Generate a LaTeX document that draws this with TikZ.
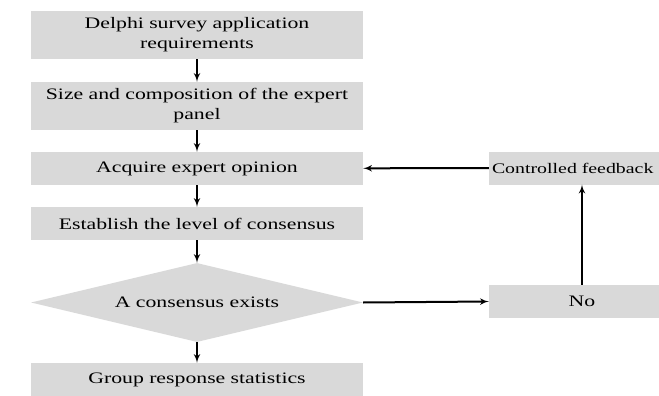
\documentclass[tikz,border=0pt]{standalone}
\usepackage{fontspec}
\setmainfont{Liberation Serif}[FakeStretch=1.36]
\usetikzlibrary{shapes,arrows}
\tikzstyle{block} = [rectangle, fill=black!15, text width=320pt, text centered,
    minimum width=332pt, inner sep=0pt, font=\fontsize{16}{20}\selectfont]
\tikzstyle{sideblock} = [rectangle, fill=black!15, text width=186pt, text centered,
    minimum width=186pt, minimum height=33pt, inner sep=0pt, font=\fontsize{16}{20}\selectfont]
\tikzstyle{decision} = [diamond, fill=black!15, aspect=4.2, minimum width=332pt, minimum height=79pt,
    inner sep=0pt, font=\fontsize{16}{20}\selectfont]
\tikzstyle{line} = [draw, line width=2pt, -latex']

\begin{document}
\begin{tikzpicture}[x=1pt, y=1pt]
    \useasboundingbox (0,0) rectangle (659,-396);
    \clip (0,0) rectangle (659,-396);
    % Place nodes
    \node [block, minimum height=48pt] (require) at (197,-35) {Delphi survey application\\requirements};
    \node [block, minimum height=48pt, below of=require, node distance=71pt] (panel) {Size and composition of the expert\\panel};
    \node [block, minimum height=33pt, below of=panel, node distance=62.5pt] (acquire) {Acquire expert opinion};
    \node [block, minimum height=33pt, below of=acquire, node distance=55pt] (level) {Establish the level of consensus};
    \node [decision, below of=level, node distance=79pt] (exists) {A consensus exists};
    \node [block, minimum height=34pt, below of=exists, node distance=77.5pt] (stats) {Group response statistics};
    \node [sideblock, text width=180pt, text ragged, font=\fontsize{14.6}{20}\selectfont] (feedback) at (582,-168) {Controlled feedback};
    \node [sideblock] (no) at (582,-301.5) {No};
    % Draw edges
    \path [line] (require) -- (panel);
    \path [line] (panel) -- (acquire);
    \path [line] (acquire) -- (level);
    \path [line] (level) -- (exists);
    \path [line] (exists) -- (stats);
    \path [line] (exists.east) -- (no.west);
    \path [line] (no) -- (feedback);
    \path [line] (feedback) -- (acquire);
\end{tikzpicture}
\end{document}
